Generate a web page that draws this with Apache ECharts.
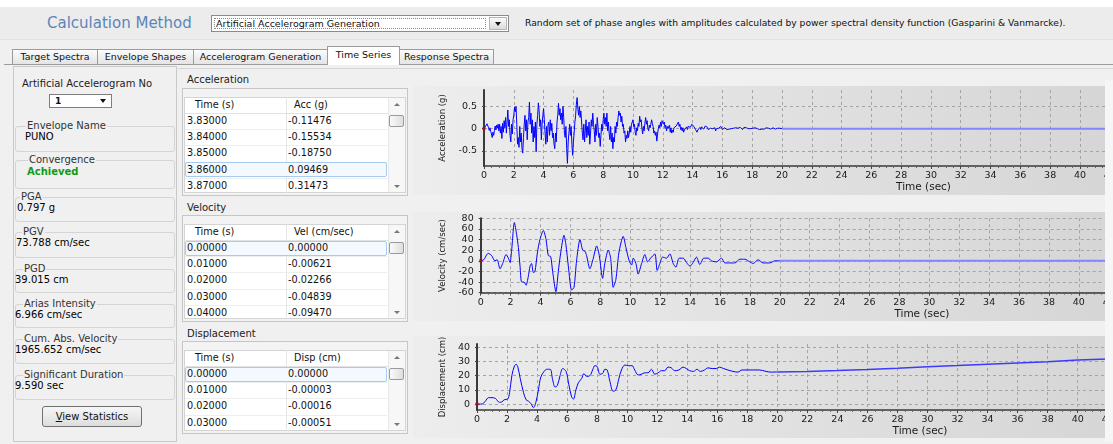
<!DOCTYPE html>
<html><head><meta charset="utf-8">
<script src="https://cdn.jsdelivr.net/npm/echarts@6.0.0/dist/echarts.min.js"></script>
<style>
*{box-sizing:border-box;margin:0;padding:0}
html,body{width:1113px;height:444px;overflow:hidden}
body{background:#f0f0f0;font-family:"DejaVu Sans",Verdana,sans-serif;font-size:10px;color:#111;position:relative}
.a{position:absolute;white-space:nowrap}
.tri{position:absolute;width:0;height:0;border-left:3.5px solid transparent;border-right:3.5px solid transparent;border-top:4px solid #111}
.triu{position:absolute;width:0;height:0;border-left:3px solid transparent;border-right:3px solid transparent;border-bottom:3px solid #777}
.trid{position:absolute;width:0;height:0;border-left:3px solid transparent;border-right:3px solid transparent;border-top:3px solid #777}
.tab{position:absolute;top:49px;height:15px;border:1px solid #9c9c9c;border-bottom:none;background:linear-gradient(#fbfbfb,#e4e4e4);font-size:9.5px;line-height:14px;text-align:center;white-space:nowrap}
.tab.act{top:46px;height:19px;background:#fff;z-index:2;line-height:16px}
.gb{position:absolute;left:15px;width:160px;border:1px solid #d4d4d4;border-radius:3px}
.lbl{position:absolute;font-size:10px;color:#333;background:#f0f0f0;padding:0 1px;line-height:12px;white-space:nowrap}
.val{position:absolute;font-size:10px;color:#000;line-height:12px;white-space:nowrap}
.sec{position:absolute;left:187px;font-size:10px;color:#222;line-height:12px}
.tbox{position:absolute;left:182px;width:226px;border:1px solid #c6c6c6;background:#f3f3f3}
.twhite{position:absolute;left:1px;top:8px;width:204px;background:#fff;border:1px solid #d8d8d8}
.cell{position:absolute;font-size:9.7px;white-space:nowrap}
.pnl{position:absolute;left:0;width:692px;background:linear-gradient(to right,#ededed,#d6d6d6)}
</style>
</head><body>
<div class="a" style="left:0;top:0;width:1113px;height:7px;background:#fff"></div>
<div class="a" style="left:0;top:7px;width:1113px;height:32px;background:#ececec"></div>
<div class="a" style="left:0;top:39px;width:1113px;height:1px;background:#e2e2e2"></div>
<div class="a" style="left:47px;top:14px;font-size:15px;line-height:18px;color:#5b85b7">Calculation Method</div>
<div class="a" style="left:211px;top:15px;width:298px;height:17px;border:1px solid #8a8a8a;background:#fff">
  <div class="a" style="left:2px;top:2px;width:272px;height:11px;border:1px dotted #8a8a8a"></div>
  <div class="a" style="left:4px;top:1px;font-size:9.5px;line-height:13px">Artificial Accelerogram Generation</div>
  <div class="a" style="right:1px;top:1px;width:18px;height:13px;background:linear-gradient(#f9f9f9,#dcdcdc);border:1px solid #b4b4b4"><div class="tri" style="left:5px;top:4px"></div></div>
</div>
<div class="a" style="left:525px;top:17px;font-size:9.2px;line-height:12px;color:#111">Random set of phase angles with amplitudes calculated by power spectral density function (Gasparini &amp; Vanmarcke).</div>

<div class="tab" style="left:12px;width:86px">Target Spectra</div>
<div class="tab" style="left:97px;width:97px">Envelope Shapes</div>
<div class="tab" style="left:193px;width:135px">Accelerogram Generation</div>
<div class="tab act" style="left:327px;width:73px">Time Series</div>
<div class="tab" style="left:399px;width:95px">Response Spectra</div>
<div class="a" style="left:4px;top:64px;width:1109px;height:1px;background:#9c9c9c"></div>

<div class="a" style="left:13px;top:66px;width:164px;height:376px;border:1px solid #c9c9c9;background:#f0f0f0"></div>
<div class="val" style="left:22px;top:78px;color:#222">Artificial Accelerogram No</div>
<div class="a" style="left:49px;top:94px;width:63px;height:14px;border:1px solid #7e7e7e;background:#fff">
  <div class="a" style="left:5px;top:0px;font-size:9px;line-height:12px;font-weight:bold">1</div>
  <div class="tri" style="left:50px;top:4px"></div>
</div>
<div id="groups"></div>
<div class="a" style="left:42px;top:406px;width:100px;height:21px;border:1px solid #707070;border-radius:3px;background:linear-gradient(#f6f6f6,#dddddd);font-size:10px;line-height:19px;text-align:center"><u>V</u>iew Statistics</div>

<div class="a" style="left:178px;top:68px;width:935px;height:1px;background:#d6d6d6"></div>
<div class="sec" style="top:73.5px">Acceleration</div>
<div class="sec" style="top:201.7px">Velocity</div>
<div class="sec" style="top:328.3px">Displacement</div>
<div id="tables"></div>

<div class="a" style="left:1105px;top:80px;width:8px;height:362px;background:#f6f6f6"></div>
<div class="a" id="wrap" style="left:413px;top:80px;width:692px;height:362px;overflow:hidden">
  <div class="pnl" style="top:6px;height:109px"></div>
  <div class="pnl" style="top:132px;height:109px"></div>
  <div class="pnl" style="top:256px;height:102px"></div>
  <div id="ch" style="position:absolute;left:0;top:0;width:970px;height:362px"></div>
</div>

<script>
// ---------------- data ----------------
const summaryLabels = ['Envelope Name','Convergence','PGA','PGV','PGD','Arias Intensity','Cum. Abs. Velocity','Significant Duration'];
const summaryValues = ['PUNO','Achieved','0.797 g','73.788 cm/sec','39.015 cm','6.966 cm/sec','1965.652 cm/sec','9.590 sec'];

const accTableTime = ['3.83000','3.84000','3.85000','3.86000','3.87000'];
const accTableVal  = ['-0.11476','-0.15534','-0.18750','0.09469','0.31473'];
const velTableTime = ['0.00000','0.01000','0.02000','0.03000','0.04000'];
const velTableVal  = ['0.00000','-0.00621','-0.02266','-0.04839','-0.09470'];
const dispTableTime = ['0.00000','0.01000','0.02000','0.03000'];
const dispTableVal  = ['0.00000','-0.00003','-0.00016','-0.00051'];

const xTickLabels = ['0','2','4','6','8','10','12','14','16','18','20','22','24','26','28','30','32','34','36','38','40','42'];
const accTicks = [-0.5, 0, 0.5];
const velTicks = [-60, -40, -20, 0, 20, 40, 60, 80];
const dispTicks = [0, 10, 20, 30, 40];

const accStep = 0.05;
const accValues = [
 0,0.02,0.05,0.08,0.11,0.07,0.03,-0.04,0.02,-0.06,-0.12,-0.2,-0.08,-0.15,-0.04,0.06,-0.03,0.08,0.02,0.1,
 -0.05,0.1,-0.1,0.05,-0.22,0.12,-0.08,0.18,0.02,0.25,-0.1,0.15,0.42,0.05,0.2,-0.15,-0.3,0.1,-0.12,0.2,
 0.3,0.48,0.38,0.5,0.1,-0.35,-0.2,-0.42,0.05,-0.3,-0.1,-0.45,-0.55,-0.2,0.1,0.3,-0.05,0.2,-0.25,0.15,
 0.25,0.6,0.1,0.35,-0.1,0.2,-0.3,0.05,-0.2,0.15,-0.52,0.1,0.3,0.58,0.4,0.05,0.2,-0.25,0.1,0.3,
 0.45,0.2,-0.1,-0.35,0.05,-0.3,0.1,0.15,-0.15,0.2,-0.05,0.12,-0.2,-0.1,-0.35,-0.45,-0.1,-0.3,0.15,0.3,
 0.57,0.3,0.45,0.2,0.35,0.1,0.5,0.25,-0.1,-0.2,0.05,-0.45,-0.78,-0.3,-0.1,0.1,-0.15,0.05,-0.35,-0.6,
 -0.3,-0.1,0.15,0.3,0.55,0.7,0.45,0.3,0.5,0.25,0.4,0.15,-0.1,-0.25,0.1,-0.3,-0.05,0.2,-0.2,0.05,
 -0.15,0.15,-0.35,-0.1,0.2,0.05,0.35,0.1,-0.05,-0.3,0.1,-0.15,0.25,0.05,-0.2,-0.1,-0.4,-0.15,0.1,-0.05,
 0.2,0.35,0.1,0.25,0.05,0.35,-0.05,0.15,-0.1,-0.25,0.05,-0.3,-0.1,-0.45,-0.2,-0.3,0.05,-0.1,0.15,0.05,
 0.25,0.4,0.3,0.35,0.15,0.28,0.05,0.1,-0.1,-0.05,-0.3,-0.15,-0.22,-0.05,-0.2,-0.1,0.05,-0.08,0.1,0.15,
 0.2,0.05,0.1,-0.08,-0.15,0.02,-0.05,0.12,0.05,0.28,0.15,0.2,0.0,-0.12,0.05,-0.05,0.12,0.25,0.1,0.18,
 0.0,-0.05,0.08,0.02,0.1,0.2,0.12,0.05,-0.1,-0.05,-0.15,-0.08,-0.28,-0.12,0.0,0.08,0.02,0.15,0.05,0.18,
 0.22,0.1,0.15,0.02,0.08,-0.05,0.05,0.0,-0.02,0.08,-0.08,0.02,-0.1,-0.03,-0.08,0.02,0.05,-0.02,0.06,0.1,
 0.08,0.15,0.05,0.1,-0.02,0.03,-0.05,0.02,-0.08,-0.03,-0.06,0.0,0.04,-0.02,0.05,0.02,0.06,0.03,0.07,0.1,
 0.06,0.1,0.04,0.08,-0.02,0.02,-0.08,-0.03,-0.06,0.0,0.03,-0.02,0.04,0.01,0.05,-0.01,0.03,0.06,0.02,0.07,
 0.03,-0.02,0.02,-0.04,0.01,-0.03,0.03,0.0,0.04,-0.02,0.02,-0.05,0.0,-0.02,0.03,0.01,0.04,0.02,0.05,0.01,
 -0.02,0.01,-0.03,0.02,-0.01,0.03,-0.02,0.0,0.02,-0.01,0.01,-0.03,0.0,0.02,-0.01,0.01,0.03,-0.01,0.02,0.0,
 -0.02,0.01,0.02,-0.01,0.03,0.0,0.02,-0.02,0.01,0.03,0.0,-0.01,0.02,0.01,-0.02,0.0,0.01,0.03,0.0,0.02,
 -0.01,0.01,0.03,0.0,0.02,-0.01,-0.02,0.0,-0.01,0.01,-0.02,0.0,0.01,-0.01,0.02,0.0,-0.01,0.01,0.0,0.02,
 0.0,-0.01,0.01,0.02,0.0,-0.01,0.01,0.0,0.02,0.01,0.0,-0.01,0.01,0.0,0.01,-0.01,0.0,0.01,0.0,0.01,
 0
];

const velTime = [0,0.2,0.5,0.73,0.95,1.1,1.29,1.47,1.7,1.85,1.96,2.07,2.25,2.4,2.52,2.63,2.74,2.9,3.03,3.18,3.3,3.4,3.52,3.63,3.79,3.96,4.19,4.37,4.52,4.68,4.81,5.03,5.19,5.35,5.57,5.7,5.86,6.08,6.24,6.41,6.64,6.82,6.97,7.08,7.3,7.53,7.75,7.93,8.15,8.3,8.53,8.69,8.86,9.04,9.24,9.53,9.71,9.93,10.09,10.2,10.38,10.53,10.76,10.98,11.16,11.36,11.65,11.8,11.98,12.16,12.43,12.65,12.87,13.05,13.27,13.54,13.76,13.99,14.21,14.43,14.65,14.92,15.21,15.43,15.77,16.1,16.33,16.66,16.99,17.33,17.66,18.0,18.22,18.55,18.89,19.33,19.67,20.0];
const velValues = [0,2,14,10,0,2,-15,-5,12,5,-3,20,72,50,25,-10,-40,-40,-46,-30,-10,-5,-22,-20,15,40,57,40,10,8,-20,-58,-20,15,48,30,-10,-55,-50,0,40,20,18,10,-15,5,28,10,-33,-5,20,5,-50,-35,15,46,25,0,-8,5,-5,-25,-5,12,-2,5,13,-18,-5,7,5,13,-5,-12,5,5,-3,-10,-3,7,-7,5,5,0,-2,5,-4,-4,-4,3,3,-2,-5,2,-4,-4,0,0];

const dispTime = [0,0.33,0.55,0.77,1.0,1.22,1.5,1.66,1.81,2.04,2.17,2.32,2.5,2.61,2.72,2.88,3.1,3.27,3.43,3.58,3.76,3.94,4.09,4.25,4.47,4.65,4.87,5.04,5.2,5.35,5.53,5.71,5.93,6.11,6.3,6.42,6.59,6.75,6.97,7.12,7.3,7.52,7.7,7.85,8.0,8.19,8.36,8.52,8.67,8.85,9.07,9.25,9.45,9.62,9.85,10.07,10.33,10.5,10.73,10.95,11.17,11.39,11.62,11.84,12.06,12.28,12.5,12.72,12.94,13.16,13.45,13.72,13.94,14.16,14.42,14.65,14.87,15.15,15.38,15.66,15.93,16.15,16.42,16.7,17.04,17.37,17.65,18.03,18.36,18.8,19.25,19.58,20.0];
const dispValues = [0,0,2,4.5,4.5,4,1.2,1.5,3,3.5,8,20,27,28,26,18,8,3,2,0.5,-2.5,2,10,19,23,24.5,24.5,17,12,13,20,25,23,14,5,3.5,10,15,18,21.5,19.5,20,24,27,26.5,21,21.5,24.5,24,16,9,10,18,24,27.5,27,27,24,20.5,21,22,22,24.5,21,22,23.5,23.5,26,25.5,23.5,24,26,25,23.5,23,24.5,23,24,25.5,25,25,26,25,24,23,22.5,24,24,24,24,23,22.5,22.6];

const padTime = [20, 59];
const padValues = [0, 0];
const dispTailTime = [20,22,24,26,28,30,32,34,36,38,40,42,44,46,48,50,52,54,56,58,59];
const dispTailValues = [22.6,22.9,23.6,24.4,25.3,26.3,27.1,28.0,28.9,29.8,31.0,31.8,32.6,33.4,34.2,35.0,35.8,36.6,37.4,38.2,38.6];

// ---------------- left panel groups ----------------
const gbTop = [126,160,197,232,269,304,339,375];
const gbH   = [26,29,25,26,24,24,25,25];
const lblX  = [26,28,20,22,23,23,23,23];
const valX  = [25,27,17,16,15,15,15,15];
const valDy = [11,12,10.5,10.5,10.5,10.5,10.5,11];
let gh = '';
summaryLabels.forEach((l,i)=>{
  gh += `<div class="gb" style="top:${gbTop[i]}px;height:${gbH[i]}px"></div>`;
  gh += `<div class="lbl" style="left:${lblX[i]}px;top:${gbTop[i]-6}px">${l}</div>`;
  const st = i===1 ? 'font-weight:bold;color:#139a13;' : '';
  gh += `<div class="val" style="left:${valX[i]}px;top:${gbTop[i]+valDy[i]-6}px;${st}">${summaryValues[i]}</div>`;
});
document.getElementById('groups').innerHTML = gh;

// ---------------- tables ----------------
function table(top, height, h2, times, vals, sel){
  const rowH = 16.2, hdrH = 16;
  const wt = top + 9, wl = 184;
  let h = `<div class="tbox" style="top:${top}px;height:${height}px"></div>`;
  h += `<div class="a" style="left:${wl}px;top:${wt}px;width:222px;height:${height-12}px;background:#fff;border:1px solid #d4d4d4"></div>`;
  h += `<div class="a" style="left:388px;top:${wt+1}px;width:17px;height:${height-14}px;background:#f7f7f7;border-left:1px solid #e6e6e6"></div>`;
  h += `<div class="triu" style="left:394px;top:${wt+6}px"></div>`;
  h += `<div class="a" style="left:389px;top:${wt+18}px;width:15px;height:12px;border:1px solid #9a9a9a;border-radius:2px;background:linear-gradient(to right,#fafafa,#dedede)"></div>`;
  h += `<div class="trid" style="left:394px;top:${top+height-11}px"></div>`;
  h += `<div class="a" style="left:${wl}px;top:${wt+hdrH}px;width:204px;height:1px;background:#e2e2e2"></div>`;
  h += `<div class="a" style="left:286px;top:${wt}px;width:1px;height:${height-12}px;background:#e4e4e4"></div>`;
  h += `<div class="cell" style="left:195px;top:${wt}px;line-height:${hdrH}px">Time (s)</div>`;
  h += `<div class="cell" style="left:294px;top:${wt}px;line-height:${hdrH}px">${h2}</div>`;
  times.forEach((t,i)=>{
    const y = wt + hdrH + i*rowH;
    if (i>0) h += `<div class="a" style="left:${wl+1}px;top:${y}px;width:202px;height:1px;background:#eeeeee"></div>`;
    if (i===sel) h += `<div class="a" style="left:185px;top:${y+0.5}px;width:202px;height:15px;border:1px solid #a6cbee;border-radius:2px;background:#f4f9ff"></div>`;
    h += `<div class="cell" style="left:187px;top:${y}px;line-height:${rowH}px">${t}</div>`;
    h += `<div class="cell" style="left:288px;top:${y}px;line-height:${rowH}px">${vals[i]}</div>`;
  });
  return h;
}
document.getElementById('tables').innerHTML =
  table(88,108,'Acc (g)',accTableTime,accTableVal,3) +
  table(215,107,'Vel (cm/sec)',velTableTime,velTableVal,0) +
  table(341,93,'Disp (cm)',dispTableTime,dispTableVal,0);

// ---------------- chart ----------------
const pairs = (ts, vs) => ts.map((t,i)=>[t, vs[i]]);
const accData = accValues.map((v,i)=>[Math.round(i*accStep*100)/100, v]);
const font = 'DejaVu Sans';
const grids = [
  {left:71, top:10, width:879, height:76},
  {left:67.7, top:138.3, width:882.3, height:74.4},
  {left:64, top:264, width:886, height:66}
];
const yDefs = [
  {min:-0.84, max:0.87, name:'Acceleration (g)', gap:32.5, ticks:accTicks},
  {min:-60, max:80, name:'Velocity (cm/sec)', gap:29.5, ticks:velTicks},
  {min:-4.2, max:42.3, name:'Displacement (cm)', gap:25.5, ticks:dispTicks}
];
const xAxis = grids.map((g,i)=>({
  gridIndex:i, type:'value', min:0, max:59, interval:2,
  name:'Time (sec)', nameLocation:'middle', nameGap:15.5,
  nameTextStyle:{fontFamily:font, fontSize:10.5, color:'#1a1a1a'},
  axisLine:{onZero:false, lineStyle:{color:'#3a3a3a', width:1.5}},
  axisTick:{show:true, length:3, lineStyle:{color:'#444'}},
  minorTick:{show:true, splitNumber:4, length:2, lineStyle:{color:'#666'}},
  axisLabel:{fontFamily:font, fontSize:9.5, color:'#1a1a1a', margin:5, showMaxLabel:false,
             formatter:(v)=> xTickLabels[v/2] !== undefined ? xTickLabels[v/2] : String(v)},
  splitLine:{show:true, lineStyle:{color:'#a4a4a4', type:[3,3], width:1}}
}));
const yAxis = yDefs.map((d,i)=>({
  gridIndex:i, type:'value', min:d.min, max:d.max,
  name:d.name, nameLocation:'middle', nameGap:d.gap,
  nameTextStyle:{fontFamily:font, fontSize:8.5, color:'#1a1a1a'},
  axisLine:{show:true, onZero:false, lineStyle:{color:'#3a3a3a', width:2}},
  axisTick:{show:true, length:2, customValues:d.ticks, lineStyle:{color:'#444'}},
  axisLabel:{fontFamily:font, fontSize:9.5, color:'#1a1a1a', margin:7, customValues:d.ticks},
  splitLine:{show:true, lineStyle:{color:'#a4a4a4', type:[3,3], width:1}}
}));
const origin = i => ({type:'scatter', xAxisIndex:i, yAxisIndex:i, data:[[0,0]], symbol:'rect', symbolSize:3, itemStyle:{color:'#cc0000'}, silent:true, z:5});
const series = [
  {type:'line', xAxisIndex:0, yAxisIndex:0, data:accData, showSymbol:false, lineStyle:{color:'#0000ff', width:1}, z:3},
  {type:'line', xAxisIndex:0, yAxisIndex:0, data:pairs(padTime,padValues), showSymbol:false, lineStyle:{color:'#8585ff', width:2}, z:2},
  {type:'line', xAxisIndex:1, yAxisIndex:1, data:pairs(velTime,velValues), showSymbol:false, smooth:0.25, lineStyle:{color:'#0000ff', width:1}, z:3},
  {type:'line', xAxisIndex:1, yAxisIndex:1, data:pairs(padTime,padValues), showSymbol:false, lineStyle:{color:'#8585ff', width:2}, z:2},
  {type:'line', xAxisIndex:2, yAxisIndex:2, data:pairs(dispTime,dispValues), showSymbol:false, smooth:0.35, lineStyle:{color:'#0000ff', width:1}, z:3},
  {type:'line', xAxisIndex:2, yAxisIndex:2, data:pairs(dispTailTime,dispTailValues), showSymbol:false, lineStyle:{color:'#3c3cff', width:1.5}, z:2},
  origin(0), origin(1), origin(2)
];
const chart = echarts.init(document.getElementById('ch'), null, {renderer:'canvas'});
chart.setOption({animation:false, backgroundColor:'transparent', grid:grids, xAxis, yAxis, series});
</script>
</body></html>
